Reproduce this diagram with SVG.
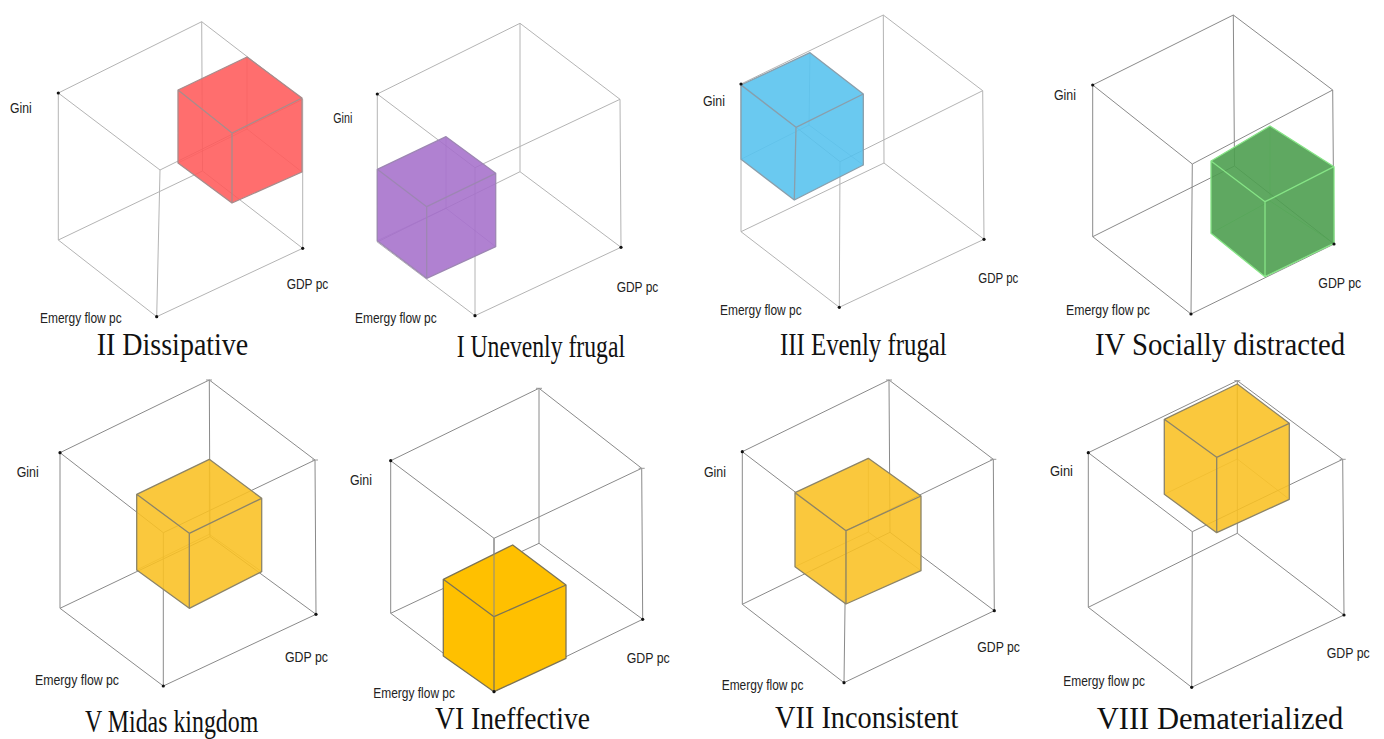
<svg xmlns="http://www.w3.org/2000/svg" width="1384" height="739" viewBox="0 0 1384 739">
<style>
.edge{fill:none;stroke:#b4b4b4;stroke-width:1}
.dk .edge{stroke:#8a8a8a}
.tick{fill:none;stroke:#999;stroke-width:1}
.hid{fill:none;stroke-width:1;opacity:0.6}
.face{stroke:none}
.cedge{fill:none;stroke-width:1.3;stroke-linejoin:round}
.dot{fill:#111}
.lbl{font-family:"Liberation Sans",Arial,sans-serif;font-size:14px;fill:#222}
.ttl{font-family:"Liberation Serif","Times New Roman",serif;font-size:32px;fill:#111}
.red .face{fill:#FF5A5A;fill-opacity:0.88}
.red .cedge,.red .hid{stroke:#a88c8c}
.pur .face{fill:#A56FCB;fill-opacity:0.88}
.pur .cedge,.pur .hid{stroke:#9d86b3}
.blu .face{fill:#55C2EE;fill-opacity:0.88}
.blu .cedge,.blu .hid{stroke:#8a9eab}
.grn .face{fill:#4E9E50;fill-opacity:0.9}
.grn .cedge,.grn .hid{stroke:#86E486}
.yel .face{fill:#F9C022;fill-opacity:0.88}
.yel .cedge,.yel .hid{stroke:#8c8468}
.yop .face{fill:#FFC000}
.yop .cedge{stroke:#7d7455}
</style>

<g id="panel-II">
<path class="edge" d="M58.3,93 L160,170 L302.7,99.3 L201.7,21.7 Z M58.3,240 L156.7,316.7 L302.7,248.3 L202.5,171 Z M58.3,93 L58.3,240 M160,170 L156.7,316.7 M302.7,99.3 L302.7,248.3 M201.7,21.7 L202.5,171"/>
<g class="red">
<path class="hid" d="M247,57 L247,129 M178,163 L247,129 L302,172"/>
<path class="face" d="M247,57 L302,98 L302,172 L232,203 L178,163 L178,90 Z"/>
<path class="cedge" d="M247,57 L302,98 L302,172 L232,203 L178,163 L178,90 Z M178,90 L232,133 L302,98 M232,133 L232,203"/>
</g>
<circle class="dot" cx="58.3" cy="93" r="1.6"/><circle class="dot" cx="156.7" cy="316.7" r="1.6"/><circle class="dot" cx="302.7" cy="248.3" r="1.6"/>
<text class="lbl" x="10" y="112.7" textLength="21.7" lengthAdjust="spacingAndGlyphs">Gini</text>
<text class="lbl" x="286.7" y="289.3" textLength="41.6" lengthAdjust="spacingAndGlyphs">GDP pc</text>
<text class="lbl" x="40" y="322.7" textLength="81.7" lengthAdjust="spacingAndGlyphs">Emergy flow pc</text>
<text class="ttl" x="96.7" y="355" textLength="151.6" lengthAdjust="spacingAndGlyphs">II Dissipative</text>
</g>

<g id="panel-I">
<path class="edge" d="M377.3,94 L475,167.7 L620,99.3 L520,23.3 Z M377.3,242 L475,315.7 L621,247.3 L520,171.7 Z M377.3,94 L377.3,242 M475,167.7 L475,315.7 M620,99.3 L621,247.3 M520,23.3 L520,171.7"/>
<g class="pur">
<path class="hid" d="M446,136.7 L446,208.3 M377.3,240.7 L446,208.3 L495.7,246.7"/>
<path class="face" d="M446,136.7 L495.7,173.3 L495.7,246.7 L426.7,278.3 L377.3,240.7 L377.3,169.3 Z"/>
<path class="cedge" d="M446,136.7 L495.7,173.3 L495.7,246.7 L426.7,278.3 L377.3,240.7 L377.3,169.3 Z M377.3,169.3 L426.7,206.7 L495.7,173.3 M426.7,206.7 L426.7,278.3"/>
</g>
<circle class="dot" cx="377.3" cy="94" r="1.6"/><circle class="dot" cx="475" cy="315.7" r="1.6"/><circle class="dot" cx="621" cy="247.3" r="1.6"/>
<text class="lbl" x="333.3" y="123" textLength="19" lengthAdjust="spacingAndGlyphs">Gini</text>
<text class="lbl" x="616.7" y="291.7" textLength="41.6" lengthAdjust="spacingAndGlyphs">GDP pc</text>
<text class="lbl" x="355" y="323.3" textLength="81.7" lengthAdjust="spacingAndGlyphs">Emergy flow pc</text>
<text class="ttl" x="456.7" y="357" textLength="168.3" lengthAdjust="spacingAndGlyphs">I Unevenly frugal</text>
</g>

<g id="panel-III">
<path class="edge" d="M741,84 L840,161.7 L982.7,90.7 L883.3,15 Z M741,231.7 L839.3,307.3 L984,239.3 L884,163 Z M741,84 L741,231.7 M840,161.7 L839.3,307.3 M982.7,90.7 L984,239.3 M883.3,15 L884,163"/>
<g class="blu">
<path class="hid" d="M810,52.7 L809,125 M741,159.3 L809,125 L863.3,165"/>
<path class="face" d="M810,52.7 L863.3,94 L863.3,165 L794.3,200 L741,159.3 L741,85 Z"/>
<path class="cedge" d="M810,52.7 L863.3,94 L863.3,165 L794.3,200 L741,159.3 L741,85 Z M741,85 L796,127.3 L863.3,94 M796,127.3 L794.3,200"/>
</g>
<circle class="dot" cx="741" cy="84" r="1.6"/><circle class="dot" cx="839.3" cy="307.3" r="1.6"/><circle class="dot" cx="984" cy="239.3" r="1.6"/>
<text class="lbl" x="703" y="106" textLength="22" lengthAdjust="spacingAndGlyphs">Gini</text>
<text class="lbl" x="978.3" y="283.3" textLength="40" lengthAdjust="spacingAndGlyphs">GDP pc</text>
<text class="lbl" x="720" y="315" textLength="81.7" lengthAdjust="spacingAndGlyphs">Emergy flow pc</text>
<text class="ttl" x="780" y="355" textLength="166.7" lengthAdjust="spacingAndGlyphs">III Evenly frugal</text>
</g>

<g id="panel-IV" class="dk">
<path class="edge" d="M1092.7,85 L1192.3,164 L1332.7,90 L1233.3,15 Z M1092.7,236.7 L1191,314 L1334,244 L1234.5,166 Z M1092.7,85 L1092.7,236.7 M1192.3,164 L1191,314 M1332.7,90 L1334,244 M1233.3,15 L1234.5,166"/>
<g class="grn">
<path class="hid" d="M1270,126 L1270,201 M1211,233.3 L1270,201 L1334,243.3"/>
<path class="face" d="M1270,126 L1334,166.7 L1334,243.3 L1265,276.7 L1211,233.3 L1211,161 Z"/>
<path class="cedge" d="M1270,126 L1334,166.7 L1334,243.3 L1265,276.7 L1211,233.3 L1211,161 Z M1211,161 L1265,201.7 L1334,166.7 M1265,201.7 L1265,276.7"/>
</g>
<circle class="dot" cx="1092.7" cy="85" r="1.6"/><circle class="dot" cx="1191" cy="314" r="1.6"/><circle class="dot" cx="1334" cy="244" r="1.6"/>
<text class="lbl" x="1054" y="100" textLength="22" lengthAdjust="spacingAndGlyphs">Gini</text>
<text class="lbl" x="1318.3" y="288.3" textLength="43" lengthAdjust="spacingAndGlyphs">GDP pc</text>
<text class="lbl" x="1066" y="315" textLength="84" lengthAdjust="spacingAndGlyphs">Emergy flow pc</text>
<text class="ttl" x="1095" y="354.5" textLength="250" lengthAdjust="spacingAndGlyphs">IV Socially distracted</text>
</g>

<g id="panel-V" class="dk">
<path class="edge" d="M60,452.7 L163.3,532.7 L315,460 L209.3,380 Z M60,608.3 L163.3,686 L316,614.3 L210,536.6 Z M60,452.7 L60,608.3 M163.3,532.7 L163.3,686 M315,460 L316,614.3 M209.3,380 L210,536.6"/>
<path class="tick" d="M206,380 h6 M312,460 h6"/>
<g class="yel">
<path class="hid" d="M209.3,459.3 L209.3,534.3 M136.7,570 L209.3,534.3 L261.7,571.7"/>
<path class="face" d="M209.3,459.3 L261.7,498.3 L261.7,571.7 L189.3,608.3 L136.7,570 L136.7,494.3 Z"/>
<path class="cedge" d="M209.3,459.3 L261.7,498.3 L261.7,571.7 L189.3,608.3 L136.7,570 L136.7,494.3 Z M136.7,494.3 L189.3,533.3 L261.7,498.3 M189.3,533.3 L189.3,608.3"/>
</g>
<circle class="dot" cx="60" cy="452.7" r="1.6"/><circle class="dot" cx="163.3" cy="686" r="1.6"/><circle class="dot" cx="316" cy="614.3" r="1.6"/>
<text class="lbl" x="16.7" y="476.7" textLength="22" lengthAdjust="spacingAndGlyphs">Gini</text>
<text class="lbl" x="285" y="661.7" textLength="43" lengthAdjust="spacingAndGlyphs">GDP pc</text>
<text class="lbl" x="35" y="685" textLength="84" lengthAdjust="spacingAndGlyphs">Emergy flow pc</text>
<text class="ttl" x="85" y="732" textLength="173.3" lengthAdjust="spacingAndGlyphs">V Midas kingdom</text>
</g>

<g id="panel-VI" class="dk">
<path class="edge" d="M390.7,460.7 L494,538.3 L641.7,468.3 L539,388.3 Z M390.7,613.3 L494,691.7 L642.7,619.3 L539,543.3 Z M390.7,460.7 L390.7,613.3 M494,538.3 L494,691.7 M641.7,468.3 L642.7,619.3 M539,388.3 L539,543.3"/>
<path class="tick" d="M536,388.3 h6 M638.7,468.3 h6"/>
<g class="yop">
<path class="face" d="M512.7,545 L566,585 L566,658.3 L494,691.7 L443.3,656 L443.3,579.3 Z"/>
<path class="cedge" d="M512.7,545 L566,585 L566,658.3 L494,691.7 L443.3,656 L443.3,579.3 Z M443.3,579.3 L494,616.7 L566,585 M494,616.7 L494,691.7"/>
</g>
<path class="edge" d="M494,538.3 L494,616.7"/>
<circle class="dot" cx="390.7" cy="460.7" r="1.6"/><circle class="dot" cx="494" cy="691.7" r="1.6"/><circle class="dot" cx="642.7" cy="619.3" r="1.6"/>
<text class="lbl" x="350" y="485" textLength="22" lengthAdjust="spacingAndGlyphs">Gini</text>
<text class="lbl" x="626.7" y="662.7" textLength="43" lengthAdjust="spacingAndGlyphs">GDP pc</text>
<text class="lbl" x="373.3" y="698.3" textLength="81.7" lengthAdjust="spacingAndGlyphs">Emergy flow pc</text>
<text class="ttl" x="435" y="729" textLength="155" lengthAdjust="spacingAndGlyphs">VI Ineffective</text>
</g>

<g id="panel-VII" class="dk">
<path class="edge" d="M742.3,451.7 L846,530.7 L993.3,459.3 L889,380 Z M742.3,604.3 L844,682.7 L994.3,610.7 L890,532.3 Z M742.3,451.7 L742.3,604.3 M846,530.7 L844,682.7 M993.3,459.3 L994.3,610.7 M889,380 L890,532.3"/>
<path class="tick" d="M886,380 h6 M990.3,459.3 h6"/>
<g class="yel">
<path class="hid" d="M868.3,458.3 L868.3,532 M795,566.7 L868.3,532 L921,570.7"/>
<path class="face" d="M868.3,458.3 L921,496 L921,570.7 L846,604 L795,566.7 L795,492.7 Z"/>
<path class="cedge" d="M868.3,458.3 L921,496 L921,570.7 L846,604 L795,566.7 L795,492.7 Z M795,492.7 L846,530.7 L921,496 M846,530.7 L846,604"/>
</g>
<circle class="dot" cx="742.3" cy="451.7" r="1.6"/><circle class="dot" cx="844" cy="682.7" r="1.6"/><circle class="dot" cx="994.3" cy="610.7" r="1.6"/>
<text class="lbl" x="704" y="476.7" textLength="22" lengthAdjust="spacingAndGlyphs">Gini</text>
<text class="lbl" x="977.3" y="651.7" textLength="42.7" lengthAdjust="spacingAndGlyphs">GDP pc</text>
<text class="lbl" x="721.7" y="690" textLength="81.7" lengthAdjust="spacingAndGlyphs">Emergy flow pc</text>
<text class="ttl" x="775" y="727.5" textLength="183.3" lengthAdjust="spacingAndGlyphs">VII Inconsistent</text>
</g>

<g id="panel-VIII" class="dk">
<path class="edge" d="M1088.3,452.7 L1192.3,531.7 L1342.7,459.3 L1237.3,380.7 Z M1088.3,607.3 L1191.7,687.3 L1344,615 L1237.3,533.3 Z M1088.3,452.7 L1088.3,607.3 M1192.3,531.7 L1191.7,687.3 M1342.7,459.3 L1344,615 M1237.3,380.7 L1237.3,533.3"/>
<path class="tick" d="M1234.3,380.7 h6 M1339.7,459.3 h6"/>
<g class="yel">
<path class="hid" d="M1237.3,384 L1237.3,459 M1164.3,494.3 L1237.3,459 L1289.3,499.3"/>
<path class="face" d="M1237.3,384 L1289.3,423.3 L1289.3,499.3 L1216.7,532.7 L1164.3,494.3 L1164.3,419.3 Z"/>
<path class="cedge" d="M1237.3,384 L1289.3,423.3 L1289.3,499.3 L1216.7,532.7 L1164.3,494.3 L1164.3,419.3 Z M1164.3,419.3 L1216.7,457.3 L1289.3,423.3 M1216.7,457.3 L1216.7,532.7"/>
</g>
<circle class="dot" cx="1088.3" cy="452.7" r="1.6"/><circle class="dot" cx="1191.7" cy="687.3" r="1.6"/><circle class="dot" cx="1344" cy="615" r="1.6"/>
<text class="lbl" x="1050" y="476" textLength="23" lengthAdjust="spacingAndGlyphs">Gini</text>
<text class="lbl" x="1326.7" y="658.3" textLength="43" lengthAdjust="spacingAndGlyphs">GDP pc</text>
<text class="lbl" x="1063.3" y="686" textLength="81.7" lengthAdjust="spacingAndGlyphs">Emergy flow pc</text>
<text class="ttl" x="1096.7" y="729" textLength="246.7" lengthAdjust="spacingAndGlyphs">VIII Dematerialized</text>
</g>
</svg>
